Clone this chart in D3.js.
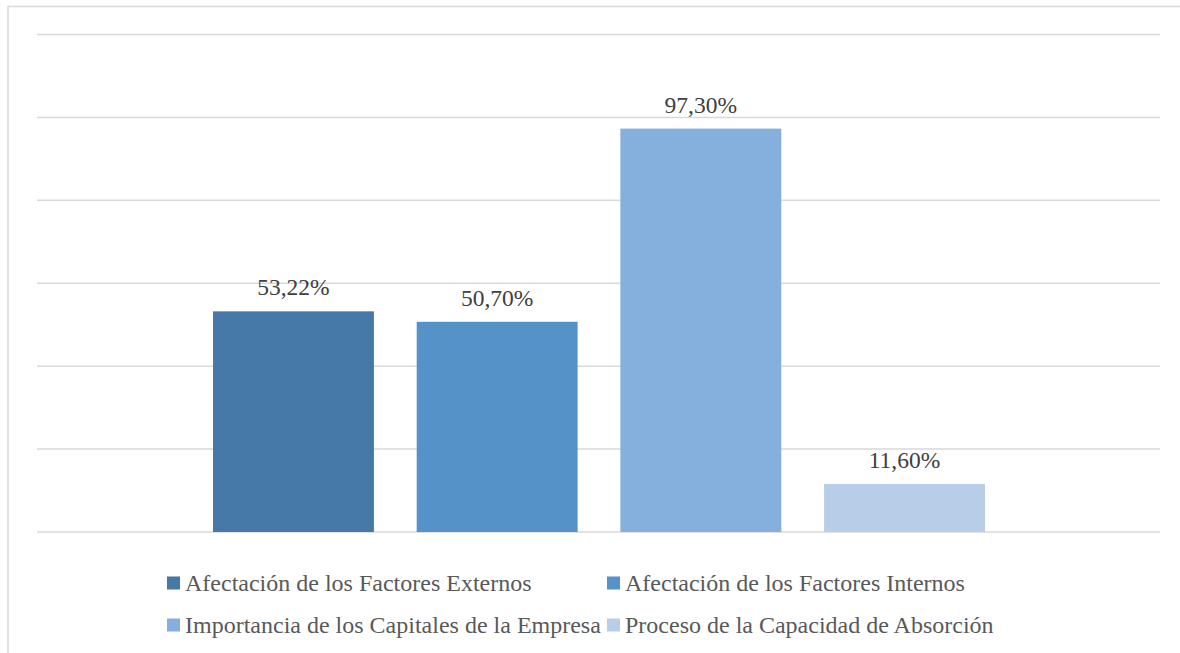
<!DOCTYPE html>
<html>
<head>
<meta charset="utf-8">
<script src="https://cdn.jsdelivr.net/npm/d3@7"></script>
</head>
<body style="margin:0">
<svg id="chart" width="1180" height="653"></svg>
<script>
var svgWidth = 1180;
var svgHeight = 653;
var fontFamily = "Liberation Serif";

// data
var series = [
  "Afectación de los Factores Externos",
  "Afectación de los Factores Internos",
  "Importancia de los Capitales de la Empresa",
  "Proceso de la Capacidad de Absorción"
];
var values = [53.22, 50.70, 97.30, 11.60];
var labels = ["53,22%", "50,70%", "97,30%", "11,60%"];
var colors = ["#4678a8", "#5592c8", "#85afdc", "#b8cde8"];
var gridTicks = [0, 20, 40, 60, 80, 100, 120];

var plot = { left: 37, right: 1160, top: 34.5, bottom: 532 };

var svg = d3.select("#chart");

// outer chart border
svg.append("rect")
  .attr("x", 8)
  .attr("y", 6.5)
  .attr("width", 1200)
  .attr("height", 700)
  .attr("fill", "none")
  .attr("stroke", "#d9d9d9")
  .attr("stroke-width", 1.5);

var yScale = d3.scaleLinear()
  .domain([0, 120])
  .range([plot.bottom, plot.top]);

var xScale = d3.scaleBand()
  .domain(series)
  .range([213, 985])
  .paddingInner(0.21)
  .paddingOuter(0);

// gridlines
svg.append("g")
  .selectAll("line")
  .data(gridTicks)
  .enter()
  .append("line")
  .attr("x1", plot.left)
  .attr("x2", plot.right)
  .attr("y1", d => yScale(d))
  .attr("y2", d => yScale(d))
  .attr("stroke", "#d9d9d9")
  .attr("stroke-width", 1.5);

// bars
svg.append("g")
  .selectAll("rect")
  .data(values)
  .enter()
  .append("rect")
  .attr("x", (d, i) => xScale(series[i]))
  .attr("y", d => yScale(d))
  .attr("width", xScale.bandwidth())
  .attr("height", d => yScale(0) - yScale(d))
  .attr("fill", (d, i) => colors[i]);

// data labels
svg.append("g")
  .selectAll("text")
  .data(values)
  .enter()
  .append("text")
  .attr("x", (d, i) => xScale(series[i]) + xScale.bandwidth() / 2)
  .attr("y", d => yScale(d) - 16)
  .attr("text-anchor", "middle")
  .style("font-family", fontFamily)
  .style("font-size", "23.5px")
  .attr("fill", "#404040")
  .text((d, i) => labels[i]);

// legend
var legendCols = [167, 607];
var legendRows = [583, 625];

var legend = svg.append("g")
  .selectAll("g")
  .data(series)
  .enter()
  .append("g")
  .attr("transform", (d, i) => `translate(${legendCols[i % 2]}, ${legendRows[Math.floor(i / 2)]})`);

legend.append("rect")
  .attr("x", 0)
  .attr("y", -6.5)
  .attr("width", 13)
  .attr("height", 13)
  .attr("fill", (d, i) => colors[i]);

legend.append("text")
  .attr("x", 18)
  .attr("y", 7.5)
  .style("font-family", fontFamily)
  .style("font-size", "24px")
  .attr("fill", "#595959")
  .text(d => d);
</script>
</body>
</html>
